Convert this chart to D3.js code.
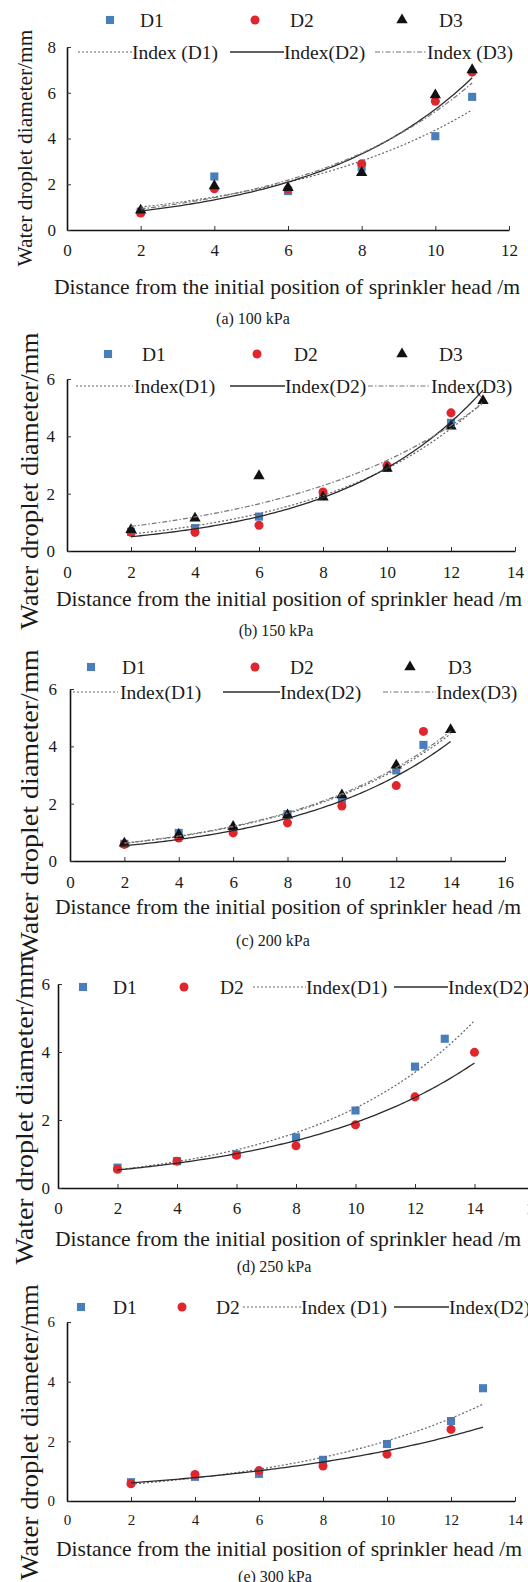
<!DOCTYPE html>
<html>
<head>
<meta charset="utf-8">
<script src="https://cdn.jsdelivr.net/npm/d3@7"></script>
<style>
  body { margin: 0; background: #fff; }
  svg { display: block; }
  text { font-family: "Liberation Serif", "Times New Roman", serif; fill: #1a1a1a; }
</style>
</head>
<body>
<svg width="528" height="1582"></svg>
<script>
'use strict';

// ---- data (null = no point at that distance) ----
// (a) 100 kPa
const xA  = [2, 4, 6, 8, 10, 11];
const d1A = [0.80, 2.34, 1.70, 2.75, 4.10, 5.82];
const d2A = [0.74, 1.80, 1.78, 2.90, 5.63, 6.90];
const d3A = [0.86, 1.93, 1.85, 2.50, 5.90, 7.00];
// (b) 150 kPa
const xB  = [2, 4, 6, 8, 10, 12, 13];
const d1B = [0.67, 0.80, 1.20, 1.94, 2.90, 4.47, null];
const d2B = [0.65, 0.65, 0.90, 2.06, 2.98, 4.82, null];
const d3B = [0.74, 1.14, 2.62, 1.88, 2.88, 4.35, 5.24];
// (c) 200 kPa
const xC  = [2, 4, 6, 8, 10, 12, 13, 14];
const d1C = [0.60, 0.98, 1.10, 1.63, 2.15, 3.16, 4.05, null];
const d2C = [0.58, 0.80, 0.98, 1.33, 1.92, 2.63, 4.52, null];
const d3C = [0.62, 0.92, 1.20, 1.60, 2.30, 3.34, null, 4.58];
// (d) 250 kPa
const xD  = [2, 4, 6, 8, 10, 12, 13, 14];
const d1D = [0.60, 0.79, 0.99, 1.49, 2.28, 3.57, 4.39, null];
const d2D = [0.55, 0.79, 0.96, 1.24, 1.86, 2.68, null, 3.99];
// (e) 300 kPa
const xE  = [2, 4, 6, 8, 10, 12, 13];
const d1E = [0.63, 0.81, 0.91, 1.38, 1.91, 2.68, 3.78];
const d2E = [0.58, 0.89, 1.02, 1.17, 1.57, 2.40, null];

const xTicks12 = [0, 2, 4, 6, 8, 10, 12];
const xTicks14 = [0, 2, 4, 6, 8, 10, 12, 14];
const xTicks16 = [0, 2, 4, 6, 8, 10, 12, 14, 16];
const yTicks8 = [0, 2, 4, 6, 8];
const yTicks6 = [0, 2, 4, 6];

const xTitle = "Distance from the initial position of sprinkler head /m";
const yTitle = "Water droplet diameter/mm";

// ---- styles per series ----
const seriesStyle = {
  D1: {symbol: d3.symbolSquare, size: 66, fill: "#4a7ebb", dash: "2,2", stroke: "#666", width: 1.2},
  D2: {symbol: d3.symbolCircle, size: 64, fill: "#e0262c", dash: null, stroke: "#2b2b2b", width: 1.3},
  D3: {symbol: d3.symbolTriangle, size: 56, fill: "#111", dash: "5,2,1.5,2", stroke: "#777", width: 1.2}
};

// ---- panel layout ----
const panels = [
  {x: xA, series: {D1: d1A, D2: d2A, D3: d3A}, caption: "(a) 100 kPa",
   xr: [67, 509], yr: [230, 47], xDom: [0, 12], yDom: [0, 8], xt: xTicks12, yt: yTicks8,
   xPad: 14, yPad: 11, tickFont: 17,
   xTitleY: 287, xTitleX: 287, capX: 253, capY: 318,
   yTitle: {x: 25, y: 148, len: 237, size: 21},
   legend: [
     {k: "D1", m: 110, t: 140, y: 20, label: "D1"},
     {k: "D2", m: 255, t: 290, y: 20, label: "D2"},
     {k: "D3", m: 402, t: 439, y: 20, label: "D3"},
     {k: "D1", l: [78, 132], t: 132, y: 52, label: "Index (D1)"},
     {k: "D2", l: [230, 284], t: 284, y: 52, label: "Index(D2)"},
     {k: "D3", l: [375, 427], t: 427, y: 52, label: "Index (D3)"}
   ]},
  {x: xB, series: {D1: d1B, D2: d2B, D3: d3B}, caption: "(b) 150 kPa",
   xr: [67, 515], yr: [551, 379], xDom: [0, 14], yDom: [0, 6], xt: xTicks14, yt: yTicks6,
   xPad: 15, yPad: 12, tickFont: 17,
   xTitleY: 599, xTitleX: 289, capX: 276, capY: 630,
   yTitle: {x: 29, y: 481, len: 297, size: 26},
   legend: [
     {k: "D1", m: 108, t: 142, y: 354, label: "D1"},
     {k: "D2", m: 257, t: 294, y: 354, label: "D2"},
     {k: "D3", m: 402, t: 439, y: 354, label: "D3"},
     {k: "D1", l: [76, 133], t: 134, y: 386, label: "Index(D1)"},
     {k: "D2", l: [230, 285], t: 285, y: 386, label: "Index(D2)"},
     {k: "D3", l: [368, 431], t: 431, y: 386, label: "Index(D3)"}
   ]},
  {x: xC, series: {D1: d1C, D2: d2C, D3: d3C}, caption: "(c) 200 kPa",
   xr: [70, 505], yr: [861, 689], xDom: [0, 16], yDom: [0, 6], xt: xTicks16, yt: yTicks6,
   xPad: 15, yPad: 13, tickFont: 17,
   xTitleY: 907, xTitleX: 288, capX: 273, capY: 940,
   yTitle: {x: 29, y: 804, len: 309, size: 26},
   legend: [
     {k: "D1", m: 91, t: 122, y: 667, label: "D1"},
     {k: "D2", m: 255, t: 290, y: 667, label: "D2"},
     {k: "D3", m: 410, t: 448, y: 667, label: "D3"},
     {k: "D1", l: [73, 118], t: 120, y: 692, label: "Index(D1)"},
     {k: "D2", l: [223, 280], t: 280, y: 692, label: "Index(D2)"},
     {k: "D3", l: [383, 436], t: 436, y: 692, label: "Index(D3)"}
   ]},
  {x: xD, series: {D1: d1D, D2: d2D}, caption: "(d) 250 kPa",
   xr: [58, 534], yr: [1188, 984], xDom: [0, 16], yDom: [0, 6], xt: xTicks16, yt: yTicks6,
   xPad: 14, yPad: 8, tickFont: 17,
   xTitleY: 1239, xTitleX: 288, capX: 274, capY: 1266,
   yTitle: {x: 24, y: 1110, len: 309, size: 26},
   legend: [
     {k: "D1", m: 83, t: 113, y: 987, label: "D1"},
     {k: "D2", m: 184, t: 220, y: 987, label: "D2"},
     {k: "D1", l: [253, 306], t: 306, y: 987, label: "Index(D1)"},
     {k: "D2", l: [394, 448], t: 448, y: 987, label: "Index(D2)"}
   ]},
  {x: xE, series: {D1: d1E, D2: d2E}, caption: "(e) 300 kPa",
   xr: [67, 515], yr: [1501, 1322], xDom: [0, 14], yDom: [0, 6], xt: xTicks14, yt: yTicks6,
   xPad: 13, yPad: 12, tickFont: 15,
   xTitleY: 1549, xTitleX: 289, capX: 275, capY: 1576,
   yTitle: {x: 29, y: 1432, len: 296, size: 26},
   legend: [
     {k: "D1", m: 81, t: 113, y: 1307, label: "D1"},
     {k: "D2", m: 182, t: 216, y: 1307, label: "D2"},
     {k: "D1", l: [243, 301], t: 301, y: 1307, label: "Index (D1)"},
     {k: "D2", l: [394, 449], t: 449, y: 1307, label: "Index(D2)"}
   ]}
];

// Excel-style exponential trend line: least squares on ln(y)
function expFit(xs, ys) {
  const pts = xs.map((x, i) => [x, ys[i]]).filter(d => d[1] != null);
  const mx = d3.mean(pts, d => d[0]);
  const my = d3.mean(pts, d => Math.log(d[1]));
  let sxy = 0, sxx = 0;
  pts.forEach(d => {
    sxy += (d[0] - mx) * (Math.log(d[1]) - my);
    sxx += (d[0] - mx) * (d[0] - mx);
  });
  const b = sxy / sxx;
  const a = Math.exp(my - b * mx);
  return x => a * Math.exp(b * x);
}

const svg = d3.select("svg");

panels.forEach(p => {
  const g = svg.append("g");
  const x = d3.scaleLinear().domain(p.xDom).range(p.xr);
  const y = d3.scaleLinear().domain(p.yDom).range(p.yr);

  // axes, ticks point inwards
  const gx = g.append("g")
    .attr("transform", `translate(0,${p.yr[0]})`)
    .call(d3.axisBottom(x).tickValues(p.xt).tickFormat(d3.format("d"))
      .tickSizeInner(-4).tickSizeOuter(0).tickPadding(p.xPad));
  const gy = g.append("g")
    .attr("transform", `translate(${p.xr[0]},0)`)
    .call(d3.axisLeft(y).tickValues(p.yt).tickFormat(d3.format("d"))
      .tickSizeInner(-4).tickSizeOuter(0).tickPadding(p.yPad));
  [gx, gy].forEach(a => {
    a.select(".domain").attr("stroke", "#111").attr("stroke-width", 1.6);
    a.selectAll(".tick line").attr("stroke", "#333").attr("stroke-width", 1);
    a.selectAll(".tick text")
      .attr("font-family", "Liberation Serif, serif")
      .attr("font-size", p.tickFont)
      .attr("fill", "#2a2a2a");
  });

  // markers
  const keys = Object.keys(p.series);
  keys.forEach(k => {
    const st = seriesStyle[k];
    const pts = p.x.map((xv, i) => [xv, p.series[k][i]]).filter(d => d[1] != null);
    g.append("g").selectAll("path")
      .data(pts)
      .join("path")
      .attr("d", d3.symbol().type(st.symbol).size(st.size))
      .attr("transform", d => `translate(${x(d[0])},${y(d[1])})`)
      .attr("fill", st.fill);
  });

  // trend lines, from first to last distance of the panel
  const x0 = d3.min(p.x), x1 = d3.max(p.x);
  const xs = d3.range(x0, x1 + 1e-9, 0.1);
  keys.forEach(k => {
    const st = seriesStyle[k];
    const f = expFit(p.x, p.series[k]);
    g.append("path")
      .datum(xs)
      .attr("d", d3.line().x(d => x(d)).y(d => y(f(d))))
      .attr("fill", "none")
      .attr("stroke", st.stroke)
      .attr("stroke-width", st.width)
      .attr("stroke-dasharray", st.dash);
  });

  // legend
  p.legend.forEach(e => {
    const st = seriesStyle[e.k];
    if (e.m != null) {
      g.append("path")
        .attr("d", d3.symbol().type(st.symbol).size(st.size)())
        .attr("transform", `translate(${e.m},${e.y})`)
        .attr("fill", st.fill);
    } else {
      g.append("line")
        .attr("x1", e.l[0]).attr("x2", e.l[1])
        .attr("y1", e.y).attr("y2", e.y)
        .attr("stroke", st.stroke)
        .attr("stroke-width", st.width)
        .attr("stroke-dasharray", st.dash);
    }
    g.append("text")
      .attr("x", e.t).attr("y", e.y)
      .attr("dy", "0.35em")
      .attr("font-size", 19.5)
      .text(e.label);
  });

  // titles
  g.append("text")
    .attr("x", p.xTitleX).attr("y", p.xTitleY)
    .attr("dy", "0.35em")
    .attr("text-anchor", "middle")
    .attr("font-size", 21)
    .attr("textLength", 466)
    .attr("lengthAdjust", "spacingAndGlyphs")
    .text(xTitle);

  g.append("text")
    .attr("transform", `translate(${p.yTitle.x},${p.yTitle.y}) rotate(-90)`)
    .attr("dy", "0.35em")
    .attr("text-anchor", "middle")
    .attr("font-size", p.yTitle.size)
    .attr("textLength", p.yTitle.len)
    .attr("lengthAdjust", "spacingAndGlyphs")
    .text(yTitle);

  g.append("text")
    .attr("x", p.capX).attr("y", p.capY)
    .attr("dy", "0.35em")
    .attr("text-anchor", "middle")
    .attr("font-size", 16)
    .text(p.caption);
});
</script>
</body>
</html>
